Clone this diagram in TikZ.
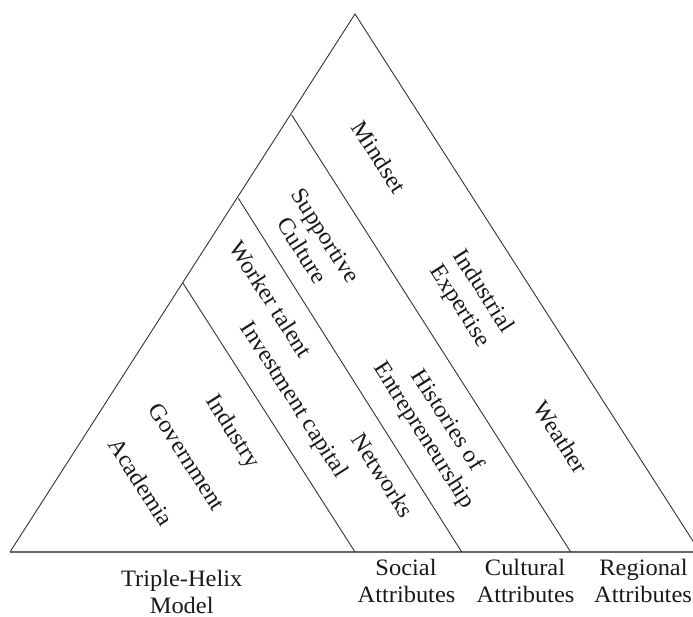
\documentclass[tikz,border=0pt]{standalone}
\usepackage{fontspec}
\setmainfont{Liberation Serif}[FakeStretch=1.04]
\begin{document}
\begin{tikzpicture}[x=1pt,y=-1pt,
  edge/.style={line width=0.9pt,draw=black!80},
  baseline/.style={line width=1.3pt,draw=black!60},
  lbl/.style={inner sep=0pt,font=\fontsize{23.5}{27.5}\selectfont,text=black!90},
  rlbl/.style={lbl,rotate=-57.4,align=center},
  blbl/.style={lbl,anchor=base}]
\useasboundingbox (0,0) rectangle (693,617);
\clip (0,0) rectangle (693,617);
\coordinate (A) at (10,552);
\coordinate (T) at (355,14);
\coordinate (B) at (700,552);
\coordinate (P1) at (182.7,282.7);
\coordinate (Q1) at (355,552);
\coordinate (P2) at (238.3,198.3);
\coordinate (Q2) at (461.7,552);
\coordinate (P3) at (291.7,115);
\coordinate (Q3) at (570.7,552);
\draw[edge] (A) -- (T) -- (B);
\draw[baseline] (A) -- (B);
\draw[edge] (P1) -- (Q1);
\draw[edge] (P2) -- (Q2);
\draw[edge] (P3) -- (Q3);
% rotated labels
\node[rlbl] (mindset) at (379,157) {Mindset};
\node[rlbl] (supp) at (314,243) {Supportive\\Culture};
\node[rlbl] (worker) at (271,299) {Worker talent};
\node[rlbl] (invest) at (293,400) {Investment capital};
\node[rlbl] (indexp) at (471,299) {Industrial\\Expertise};
\node[rlbl] (hist) at (435,428) {Histories of\\Entrepreneurship};
\node[rlbl] (networks) at (383,475) {Networks};
\node[rlbl] (weather) at (561,437) {Weather};
\node[rlbl] (industry) at (232,432) {Industry};
\node[rlbl] (gov) at (187,457) {Government};
\node[rlbl] (acad) at (141,482) {Academia};
% bottom labels
\node[blbl] (th1) at (181.7,586) {Triple-Helix};
\node[blbl] (th2) at (181.7,613) {Model};
\node[blbl] (so1) at (406,575) {Social};
\node[blbl] (so2) at (406.5,602) {Attributes};
\node[blbl] (cu1) at (525,575) {Cultural};
\node[blbl] (cu2) at (525.5,602) {Attributes};
\node[blbl] (re1) at (643.5,575) {Regional};
\node[blbl] (re2) at (643,602) {Attributes};
\end{tikzpicture}
\end{document}
